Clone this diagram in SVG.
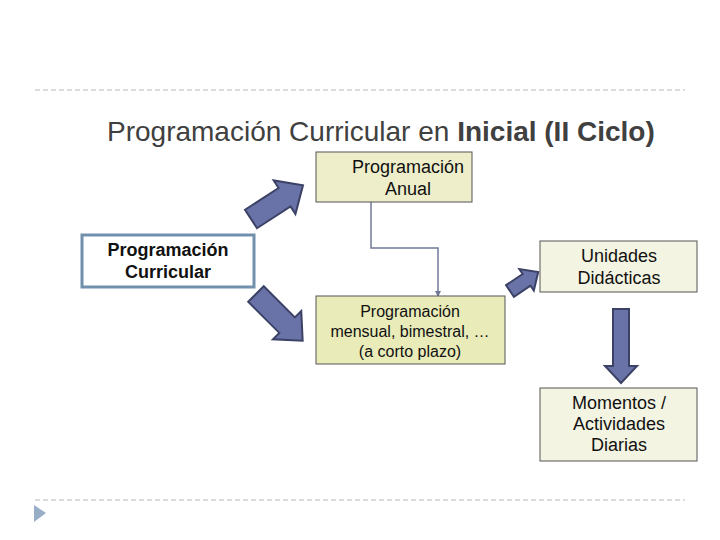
<svg xmlns="http://www.w3.org/2000/svg" width="720" height="540" viewBox="0 0 720 540">
<defs>
<style>
.t{font-family:"Liberation Sans",Arial,sans-serif;fill:#111;text-anchor:middle}
.box{stroke:#555;stroke-width:1}
.barrow{fill:#6a73a7;stroke:#3c4266;stroke-width:2;stroke-linejoin:miter}
.dash{stroke:#b8b8b8;stroke-width:1;stroke-dasharray:5,3}
</style>
<marker id="ah" markerWidth="6" markerHeight="6" refX="5" refY="3" orient="auto" markerUnits="userSpaceOnUse">
<path d="M0,0 L6,3 L0,6 Z" fill="#707a98"/>
</marker>
</defs>
<rect width="720" height="540" fill="#fff"/>
<line class="dash" x1="35" y1="90" x2="685" y2="90"/>
<line class="dash" x1="35" y1="500" x2="685" y2="500"/>
<path d="M34,505 L46,513 L34,522 Z" fill="#98aec6"/>
<text x="107" y="141" font-family="'Liberation Sans',Arial,sans-serif" font-size="28" fill="#404040">Programación Curricular en <tspan font-weight="bold">Inicial (II Ciclo)</tspan></text>

<g id="connectors">
<path d="M371,202 V248 H438 V296" fill="none" stroke="#707a98" stroke-width="1.5" marker-end="url(#ah)"/>
<path class="barrow" transform="translate(251,219) rotate(-33)" d="M0,-11 H40 V-20 L62,0 L40,20 V11 H0 Z"/>
<path class="barrow" transform="translate(256,294) rotate(45)" d="M0,-11 H44 V-20 L66,0 L44,20 V11 H0 Z"/>
<path class="barrow" transform="translate(510,291) rotate(-34)" d="M0,-7 H20 V-13 L34,0 L20,13 V7 H0 Z"/>
<path class="barrow" d="M613,309 H629 V366 H637 L621,383 L605,366 H613 Z"/>
</g>

<g id="curricular">
<rect x="82" y="235" width="172" height="52" fill="#fff" stroke="#7090ae" stroke-width="3"/>
<text class="t" x="168" y="256" font-size="18" font-weight="bold">Programación</text>
<text class="t" x="168" y="278" font-size="18" font-weight="bold">Curricular</text>
</g>

<g id="anual">
<rect class="box" x="316" y="152" width="156" height="50" fill="#eeeecb"/>
<text class="t" x="408" y="173" font-size="18">Programación</text>
<text class="t" x="408" y="195" font-size="18">Anual</text>
</g>

<g id="unidades">
<rect class="box" x="540" y="241" width="157" height="51" fill="#f4f4e2"/>
<text class="t" x="619" y="262" font-size="18">Unidades</text>
<text class="t" x="619" y="284" font-size="18">Didácticas</text>
</g>

<g id="mensual">
<rect class="box" x="316" y="296" width="189" height="68" fill="#e9ebb9"/>
<text class="t" x="410" y="317" font-size="16">Programación</text>
<text class="t" x="410" y="337" font-size="16">mensual, bimestral, …</text>
<text class="t" x="410" y="357" font-size="16">(a corto plazo)</text>
</g>

<g id="momentos">
<rect class="box" x="540" y="388" width="157" height="73" fill="#f4f4e2"/>
<text class="t" x="619" y="409" font-size="18">Momentos /</text>
<text class="t" x="619" y="430" font-size="18">Actividades</text>
<text class="t" x="619" y="451" font-size="18">Diarias</text>
</g>
</svg>
